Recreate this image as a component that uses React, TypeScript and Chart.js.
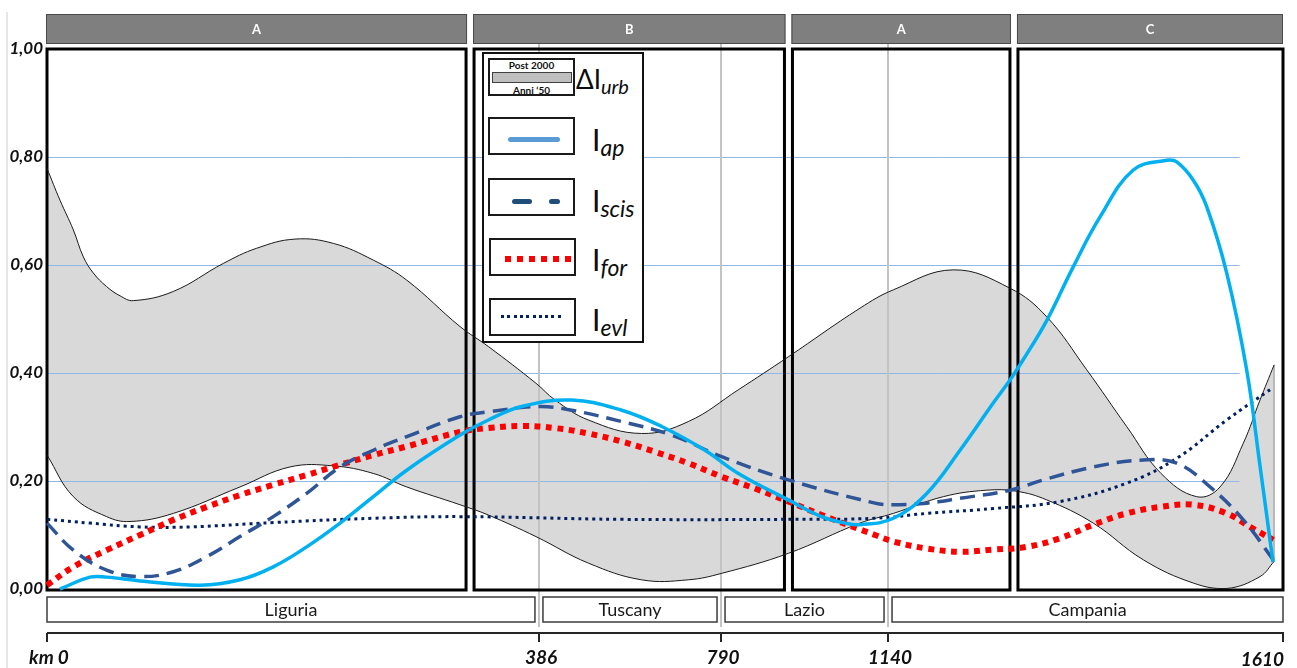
import React, { useEffect, useRef } from "react";
import { Chart, registerables } from "chart.js";
Chart.register(...registerables);

// x positions are expressed as % of the coastline strip (schematic, not linear in km)
const kmTickPos = [0, 39.77, 54.49, 67.99, 100];
const kmTickLabels = ["km 0", "386", "790", "1140", "1610"];
const yTickValues = [0, 0.2, 0.4, 0.6, 0.8, 1.0];
const yTickLabels = ["0,00", "0,20", "0,40", "0,60", "0,80", "1,00"];
const regionNames = ["Liguria", "Tuscany", "Lazio", "Campania"];
const zoneLabels = ["A", "B", "A", "C"];
const zoneBounds = [0, 34.2, 59.94, 78.17, 100];

// ΔIurb band: upper = Post 2000, lower = Anni '50
const urbPost2000 = [
  [0, 0.779], [1.05, 0.72], [2.13, 0.665], [2.94, 0.615], [3.75, 0.585], [4.82, 0.56],
  [5.9, 0.543], [6.98, 0.534], [10.21, 0.551], [14.26, 0.603], [16.95, 0.631],
  [20.05, 0.648], [23.15, 0.64], [26.38, 0.609], [29.08, 0.572], [33.39, 0.486],
  [35.68, 0.449], [39.53, 0.381], [41.07, 0.35], [43.76, 0.313], [48.07, 0.288],
  [51.84, 0.31], [55.89, 0.369], [59.93, 0.43], [65.72, 0.52], [68.42, 0.554],
  [73.27, 0.591], [77.85, 0.557], [80.82, 0.504], [84.05, 0.406], [87.28, 0.301],
  [90.06, 0.214], [92.94, 0.171], [94.83, 0.189], [96.71, 0.27], [98.06, 0.35],
  [99.2, 0.415],
];
const urb1950s = [
  [0, 0.248], [2.13, 0.171], [4.82, 0.134], [6.71, 0.125], [10.21, 0.14], [15.6, 0.189],
  [19.64, 0.226], [23.15, 0.228], [26.38, 0.214], [29.08, 0.189], [33.39, 0.156],
  [35.68, 0.137], [39.53, 0.097], [43.76, 0.048], [48.07, 0.017], [51.84, 0.017],
  [54.54, 0.029], [59.93, 0.066], [65.72, 0.122], [68.42, 0.14], [72.46, 0.171],
  [75.97, 0.183], [78.39, 0.181], [80.82, 0.165], [84.58, 0.122], [88.63, 0.054],
  [92.67, 0.011], [95.37, 0.001], [98.06, 0.023], [99.2, 0.051],
];
const iap = [
  [1.05, 0.0], [3.48, 0.022], [4.82, 0.022], [7.52, 0.015], [12.37, 0.007], [15.6, 0.017],
  [18.29, 0.041], [20.99, 0.078], [23.69, 0.122], [26.38, 0.171], [29.08, 0.22],
  [33.39, 0.285], [35.68, 0.313], [38.37, 0.338], [42.42, 0.35], [46.46, 0.331],
  [49.69, 0.301], [53.19, 0.257], [55.89, 0.214], [59.93, 0.165], [62.63, 0.134],
  [64.51, 0.122], [65.72, 0.119], [68.42, 0.131], [71.12, 0.177], [73.81, 0.257],
  [76.48, 0.344], [77.85, 0.387], [78.9, 0.424], [80.84, 0.498], [82.97, 0.597],
  [85.13, 0.689], [87.82, 0.776], [90.52, 0.794], [91.33, 0.791], [92.67, 0.757],
  [93.75, 0.708], [95.37, 0.585], [96.98, 0.406], [98.06, 0.228], [99.11, 0.05],
];
const iscis = [
  [0, 0.122], [2.13, 0.072], [4.82, 0.035], [7.52, 0.023], [10.21, 0.032], [12.91, 0.06],
  [15.6, 0.097], [18.29, 0.134], [20.99, 0.177], [23.69, 0.226], [26.38, 0.257],
  [29.08, 0.282], [33.39, 0.319], [35.68, 0.328], [39.72, 0.338], [42.42, 0.331],
  [46.46, 0.31], [50.5, 0.285], [54.54, 0.245], [59.93, 0.202], [66.94, 0.159],
  [68.42, 0.156], [71.12, 0.159], [73.81, 0.168], [77.85, 0.183], [80.54, 0.202],
  [84.58, 0.226], [88.63, 0.239], [91.33, 0.233], [94.02, 0.189], [96.71, 0.128],
  [99.14, 0.054],
];
const ifor = [
  [0, 0.007], [2.13, 0.041], [4.82, 0.072], [7.52, 0.1], [10.21, 0.128], [12.91, 0.152],
  [15.6, 0.174], [18.29, 0.193], [20.99, 0.211], [23.69, 0.23], [26.38, 0.248],
  [29.08, 0.264], [33.39, 0.291], [35.68, 0.298], [38.37, 0.302], [41.07, 0.298],
  [43.76, 0.288], [46.46, 0.273], [49.15, 0.254], [51.84, 0.233], [54.54, 0.208],
  [57.24, 0.186], [59.93, 0.162], [62.63, 0.137], [66.94, 0.1], [68.42, 0.088],
  [71.12, 0.075], [73.81, 0.069], [76.5, 0.073], [79.2, 0.078], [81.89, 0.094],
  [84.58, 0.119], [87.28, 0.14], [89.98, 0.152], [92.67, 0.156], [95.37, 0.14],
  [97.25, 0.115], [99.14, 0.091],
];
const ievl = [
  [0, 0.129], [3.48, 0.122], [7.52, 0.115], [11.56, 0.115], [18.29, 0.123], [26.38, 0.131],
  [33.39, 0.134], [46.46, 0.129], [59.93, 0.129], [66.94, 0.131], [71.12, 0.14],
  [76.5, 0.149], [81.89, 0.162], [87.28, 0.196], [91.33, 0.242], [95.37, 0.313],
  [98.87, 0.369],
];

const FONT = "Lato, 'Open Sans', 'DejaVu Sans', sans-serif";
const gridEndPct = 96.4;
const TENSION = 0.4;

const overlayPlugin = {
  id: "overlay",
  beforeDatasetsDraw(chart: any) {
    const { ctx, scales } = chart;
    const x = scales.x, y = scales.y;
    ctx.save();
    // horizontal grid lines (over the band fill, under the curves)
    ctx.strokeStyle = "#8fb8e6";
    ctx.lineWidth = 1;
    for (const v of yTickValues) {
      if (v === 0 || v === 1) continue;
      const py = Math.round(y.getPixelForValue(v)) + 0.5;
      ctx.beginPath();
      ctx.moveTo(x.getPixelForValue(0), py);
      ctx.lineTo(x.getPixelForValue(gridEndPct), py);
      ctx.stroke();
    }
    // region boundary lines
    ctx.strokeStyle = "#c3c3c3";
    ctx.lineWidth = 2;
    for (let i = 1; i < kmTickPos.length - 1; i++) {
      const px = Math.round(x.getPixelForValue(kmTickPos[i]));
      ctx.beginPath();
      ctx.moveTo(px, 44);
      ctx.lineTo(px, 627);
      ctx.stroke();
    }
    // band right edge
    const last = urbPost2000.length - 1;
    const lastL = urb1950s.length - 1;
    ctx.strokeStyle = "#8a8a8a";
    ctx.lineWidth = 1;
    ctx.beginPath();
    ctx.moveTo(x.getPixelForValue(urbPost2000[last][0]), y.getPixelForValue(urbPost2000[last][1]));
    ctx.lineTo(x.getPixelForValue(urb1950s[lastL][0]), y.getPixelForValue(urb1950s[lastL][1]));
    ctx.stroke();
    // zone boxes
    const top = y.getPixelForValue(1);
    const bottom = y.getPixelForValue(0) + 1;
    ctx.strokeStyle = "#000";
    ctx.lineWidth = 3;
    for (let i = 0; i < zoneLabels.length; i++) {
      const l = i === 0 ? x.getPixelForValue(zoneBounds[i]) : x.getPixelForValue(zoneBounds[i]) + 4;
      const r = i === zoneLabels.length - 1 ? x.getPixelForValue(zoneBounds[i + 1]) - 1 : x.getPixelForValue(zoneBounds[i + 1]) - 4;
      ctx.strokeRect(l, top, r - l, bottom - top);
    }
    ctx.restore();
  },
  afterDraw(chart: any) {
    const { ctx, scales } = chart;
    const x = scales.x, y = scales.y;
    ctx.save();
    // page left edge line
    ctx.strokeStyle = "#e6e6e6";
    ctx.lineWidth = 2;
    ctx.beginPath();
    ctx.moveTo(7, 12);
    ctx.lineTo(7, 668);
    ctx.stroke();
    // zone headers
    for (let i = 0; i < zoneLabels.length; i++) {
      const l = i === 0 ? x.getPixelForValue(zoneBounds[i]) : x.getPixelForValue(zoneBounds[i]) + 4;
      const r = i === zoneLabels.length - 1 ? x.getPixelForValue(zoneBounds[i + 1]) - 2 : x.getPixelForValue(zoneBounds[i + 1]) - 4;
      ctx.fillStyle = "#7f7f7f";
      ctx.fillRect(l - 1, 14, r - l + 2, 30);
      ctx.strokeStyle = "#4a4a4a";
      ctx.lineWidth = 1;
      ctx.strokeRect(l - 0.5, 14.5, r - l + 1, 29);
      ctx.fillStyle = "#ffffff";
      ctx.font = `bold 13px ${FONT}`;
      ctx.textAlign = "center";
      ctx.textBaseline = "middle";
      ctx.fillText(zoneLabels[i], (l + r) / 2, 29.5);
    }
    // region boxes
    for (let i = 0; i < regionNames.length; i++) {
      const l = i === 0 ? x.getPixelForValue(kmTickPos[i]) : x.getPixelForValue(kmTickPos[i]) + 4;
      const r = i === regionNames.length - 1 ? x.getPixelForValue(kmTickPos[i + 1]) - 1 : x.getPixelForValue(kmTickPos[i + 1]) - 4;
      ctx.strokeStyle = "#3c3c3c";
      ctx.lineWidth = 1.5;
      ctx.strokeRect(l, 597, r - l, 25);
      ctx.fillStyle = "#1a1a1a";
      ctx.font = `18px ${FONT}`;
      ctx.textAlign = "center";
      ctx.textBaseline = "middle";
      ctx.fillText(regionNames[i], (l + r) / 2, 610);
    }
    // km axis
    const x0 = x.getPixelForValue(0), x1 = x.getPixelForValue(100);
    ctx.strokeStyle = "#262626";
    ctx.lineWidth = 2;
    ctx.beginPath();
    ctx.moveTo(x0, 633);
    ctx.lineTo(x1, 633);
    ctx.stroke();
    ctx.font = `italic bold 19px ${FONT}`;
    ctx.fillStyle = "#111";
    ctx.textBaseline = "middle";
    for (let i = 0; i < kmTickPos.length; i++) {
      const isLast = i === kmTickPos.length - 1;
      const px = Math.round(x.getPixelForValue(kmTickPos[i])) - (isLast ? 1 : 0);
      ctx.beginPath();
      ctx.moveTo(px, 633);
      ctx.lineTo(px, 642);
      ctx.stroke();
      ctx.textAlign = isLast ? "right" : "center";
      ctx.fillText(kmTickLabels[i], isLast ? px + 1 : px + 2, isLast ? 660 : 658);
    }
    // y tick labels
    ctx.font = `italic bold 17px ${FONT}`;
    ctx.textAlign = "right";
    ctx.textBaseline = "middle";
    for (let i = 0; i < yTickValues.length; i++) {
      ctx.fillText(yTickLabels[i], 43, y.getPixelForValue(yTickValues[i]));
    }
    ctx.restore();
  },
};

function toPts(arr: number[][]) {
  return arr.map(([x, y]) => ({ x, y }));
}

function lineDs(data: number[][], color: string, width: number, dash: number[]) {
  return {
    data: toPts(data),
    borderColor: color,
    borderWidth: width,
    borderDash: dash,
    borderCapStyle: "butt",
    pointRadius: 0,
    fill: false,
    tension: TENSION,
    clip: false,
  };
}

const legendBox: React.CSSProperties = {
  position: "absolute",
  width: 87,
  height: 38,
  border: "2px solid #1a1a1a",
  boxSizing: "border-box",
  background: "#fff",
};

function LegendLabel({ top, main, sub, size = 30, subSize = 23, left = 592, shift = 5 }: any) {
  return (
    <div
      style={{
        position: "absolute",
        left,
        top,
        fontFamily: FONT,
        fontSize: size,
        lineHeight: `${size}px`,
        color: "#0d0d0d",
        whiteSpace: "nowrap",
      }}
    >
      {main}
      <span style={{ fontStyle: "italic", fontSize: subSize, position: "relative", top: shift }}>{sub}</span>
    </div>
  );
}

export default function App() {
  const ref = useRef<HTMLCanvasElement>(null);
  useEffect(() => {
    if (!ref.current) return;
    const chart = new Chart(ref.current, {
      type: "line",
      data: {
        datasets: [
          lineDs(iap, "#00b0f0", 3.5, []),
          lineDs(iscis, "#2f5597", 3.5, [15, 8]),
          lineDs(ifor, "#ff0000", 6, [6, 5.5]),
          lineDs(ievl, "#002060", 3, [3, 4]),
          {
            data: toPts(urbPost2000),
            borderColor: "#1a1a1a",
            borderWidth: 1,
            pointRadius: 0,
            backgroundColor: "#d9d9d9",
            fill: "+1",
            tension: TENSION,
            clip: false,
          },
          {
            data: toPts(urb1950s),
            borderColor: "#1a1a1a",
            borderWidth: 1,
            pointRadius: 0,
            fill: false,
            tension: TENSION,
            clip: false,
          },
        ] as any,
      },
      options: {
        animation: false,
        responsive: false,
        events: [],
        layout: { padding: { left: 47, right: 13, top: 49, bottom: 79 } },
        scales: {
          x: { type: "linear", min: 0, max: 100, display: false },
          y: { type: "linear", min: 0, max: 1, display: false },
        },
        plugins: {
          legend: { display: false },
          tooltip: { enabled: false },
          filler: { drawTime: "beforeDatasetsDraw", propagate: false },
        } as any,
      },
      plugins: [overlayPlugin as any],
    });
    return () => chart.destroy();
  }, []);

  const boldSmall: React.CSSProperties = {
    position: "absolute",
    left: 0,
    width: "100%",
    textAlign: "center",
    fontFamily: FONT,
    fontWeight: 700,
    fontSize: 10,
    lineHeight: "10px",
    color: "#111",
  };

  return (
    <div style={{ position: "absolute", left: 0, top: 0, width: 1297, height: 668, overflow: "hidden", background: "#fff" }}>
      <canvas ref={ref} width={1297} height={668} style={{ width: 1297, height: 668, display: "block" }} />
      {/* legend */}
      <div style={{ position: "absolute", left: 482, top: 52, width: 162, height: 291, border: "2px solid #111", boxSizing: "border-box", background: "#fff" }} />
      <div style={{ ...legendBox, left: 488, top: 58, height: 38 }}>
        <div style={{ ...boldSmall, top: 0 }}>Post 2000</div>
        <div style={{ position: "absolute", left: 2, top: 12, width: 80, height: 11, background: "#bfbfbf", border: "1px solid #404040", boxSizing: "border-box" }} />
        <div style={{ ...boldSmall, top: 25 }}>Anni ‘50</div>
      </div>
      <LegendLabel top={66} main="ΔI" sub="urb" size={26} subSize={20} left={576} shift={5} />

      <div style={{ ...legendBox, left: 488, top: 117 }}>
        <div style={{ position: "absolute", left: 18, top: 18, width: 52, height: 5, background: "#5b9bd5", borderRadius: 3 }} />
      </div>
      <LegendLabel top={124} main="I" sub="ap" />

      <div style={{ ...legendBox, left: 488, top: 178 }}>
        <div style={{ position: "absolute", left: 22, top: 19, width: 20, height: 5, background: "#1f4e79", borderRadius: 3 }} />
        <div style={{ position: "absolute", left: 59, top: 19, width: 11, height: 5, background: "#1f4e79", borderRadius: 3 }} />
      </div>
      <LegendLabel top={185} main="I" sub="scis" />

      <div style={{ ...legendBox, left: 489, top: 238 }}>
        <div style={{ position: "absolute", left: 14, top: 16, width: 66, height: 6, background: "repeating-linear-gradient(to right, #ff0000 0px, #ff0000 6px, transparent 6px, transparent 12px)" }} />
      </div>
      <LegendLabel top={244} main="I" sub="for" />

      <div style={{ ...legendBox, left: 489, top: 298 }}>
        <div style={{ position: "absolute", left: 10, top: 15, width: 62, height: 3, background: "repeating-linear-gradient(to right, #002060 0px, #002060 3px, transparent 3px, transparent 6.3px)" }} />
      </div>
      <LegendLabel top={304} main="I" sub="evl" />
    </div>
  );
}
